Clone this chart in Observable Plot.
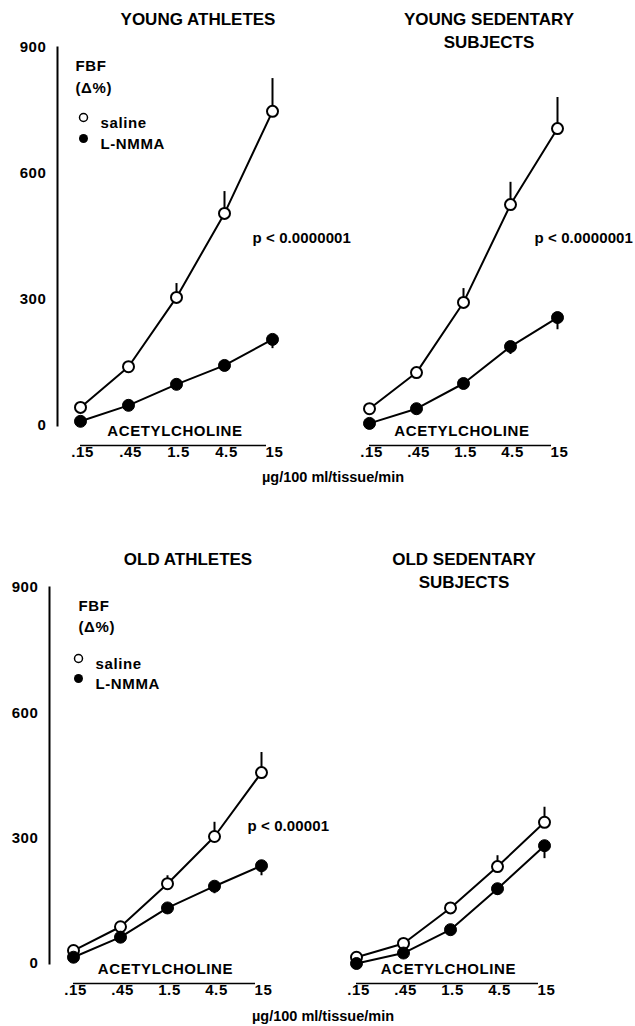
<!DOCTYPE html>
<html>
<head>
<meta charset="utf-8">
<script src="https://cdn.jsdelivr.net/npm/d3@7"></script>
<script src="https://cdn.jsdelivr.net/npm/@observablehq/plot@0.6"></script>
<style>
  html, body { margin: 0; padding: 0; background: white; }
  #root { position: relative; width: 635px; height: 1026px; font-family: "Liberation Sans", Arial, sans-serif; font-weight: bold; color: black; }
  .panel { position: absolute; }
  .title { position: absolute; text-align: center; font-size: 17px; line-height: 23px; transform: translateX(-50%); white-space: nowrap; }
  .caption { position: absolute; font-size: 14.5px; transform: translateX(-50%); white-space: nowrap; }
</style>
</head>
<body>
<div id="root"></div>
<script>
// ---- data ----
const doses = [".15", ".45", "1.5", "4.5", "15"];
const yTicks = [0, 300, 600, 900];
const seriesNames = ["saline", "L-NMMA"];

const youngAthSaline = [43, 140, 305, 505, 748];
const youngAthSalineErr = [0, 0, 33, 52, 78];
const youngAthLnmma = [10, 48, 98, 143, 205];
const youngAthLnmmaErr = [0, 0, 0, 8, 22];

const youngSedSaline = [40, 126, 293, 526, 707];
const youngSedSalineErr = [0, 0, 33, 53, 74];
const youngSedLnmma = [5, 40, 100, 188, 257];
const youngSedLnmmaErr = [0, 0, 0, 19, 29];

const oldAthSaline = [31, 88, 191, 304, 457];
const oldAthSalineErr = [0, 0, 19, 34, 48];
const oldAthLnmma = [15, 63, 133, 185, 234];
const oldAthLnmmaErr = [0, 0, 0, 18, 24];

const oldSedSaline = [15, 48, 133, 232, 338];
const oldSedSalineErr = [0, 0, 0, 26, 36];
const oldSedLnmma = [0, 25, 81, 179, 282];
const oldSedLnmmaErr = [0, 0, 0, 16, 31];

const panelTitles = [
  ["YOUNG ATHLETES"],
  ["YOUNG SEDENTARY", "SUBJECTS"],
  ["OLD ATHLETES"],
  ["OLD SEDENTARY", "SUBJECTS"]
];
const pValues = ["p < 0.0000001", "p < 0.0000001", "p < 0.00001", null];
const yLabel = ["FBF", "(\u0394%)"];
const xTitle = "ACETYLCHOLINE";
const unitCaption = "\u00b5g/100 ml/tissue/min";

// ---- layout ----
const layout = [
  {left: 0,   top: 0,   ml: 57, inset: 22, mr: 48, mt: 47, mb: 45, yAxis: true,
   title: {x: 198, y: 8}, p: {dx: 195, dy: 185}, legend: {tx: 18, cx: 26, lx: 43, dy0: 13, dy1: 35, dy2: 70, dy3: 91}},
  {left: 288, top: 0,   ml: 57, inset: 22, mr: 50, mt: 47, mb: 45, yAxis: false,
   title: {x: 489, y: 8}, p: {dx: 189, dy: 185}},
  {left: 0,   top: 540, ml: 49, inset: 24, mr: 59, mt: 47, mb: 47, yAxis: true,
   title: {x: 188, y: 548}, p: {dx: 198, dy: 233}, legend: {tx: 29, cx: 29, lx: 46, dy0: 13, dy1: 34, dy2: 71, dy3: 91}},
  {left: 282, top: 540, ml: 49, inset: 24, mr: 57, mt: 47, mb: 47, yAxis: false,
   title: {x: 464, y: 548}, p: null}
];
const W = 345, H = 470;

const seriesData = [
  [youngAthSaline, youngAthSalineErr, youngAthLnmma, youngAthLnmmaErr],
  [youngSedSaline, youngSedSalineErr, youngSedLnmma, youngSedLnmmaErr],
  [oldAthSaline, oldAthSalineErr, oldAthLnmma, oldAthLnmmaErr],
  [oldSedSaline, oldSedSalineErr, oldSedLnmma, oldSedLnmmaErr]
];

const rows = (vals, errs) => doses.map((d, i) => ({dose: d, value: vals[i], err: errs[i]}));

const root = document.getElementById("root");
const font = "Liberation Sans, Arial, sans-serif";
const FS = 15;

layout.forEach((L, k) => {
  const [sv, se, lv, le] = seriesData[k];
  const sal = rows(sv, se), lnm = rows(lv, le);
  const marks = [
    Plot.axisX({tickSize: 0, tickPadding: 21, label: null, fontSize: FS, dx: 2}),
    Plot.ruleY([0], {x1: () => doses[0], x2: () => doses[doses.length - 1], dy: 20, insetRight: 6, stroke: "black", strokeWidth: 1.5}),
    Plot.text([xTitle], {frameAnchor: "bottom", dx: 10, dy: 10, fontSize: FS, fontWeight: "bold"}),
    Plot.line(sal, {x: "dose", y: "value", stroke: "black", strokeWidth: 2}),
    Plot.line(lnm, {x: "dose", y: "value", stroke: "black", strokeWidth: 2}),
    Plot.ruleX(sal.filter(d => d.err > 0), {x: "dose", y1: "value", y2: d => d.value + d.err, stroke: "black", strokeWidth: 2}),
    Plot.ruleX(lnm.filter(d => d.err > 0), {x: "dose", y1: "value", y2: d => d.value - d.err, stroke: "black", strokeWidth: 2}),
    Plot.dot(sal, {x: "dose", y: "value", r: 5.5, fill: "white", stroke: "black", strokeWidth: 2}),
    Plot.dot(lnm, {x: "dose", y: "value", r: 6, fill: "black", stroke: "black", strokeWidth: 1})
  ];
  if (L.yAxis) {
    marks.unshift(Plot.frame({anchor: "left", stroke: "black", strokeWidth: 2}));
    marks.unshift(Plot.axisY({ticks: yTicks, tickSize: 0, tickPadding: 11, label: null, fontSize: FS}));
  }
  if (L.legend) {
    const g = L.legend;
    marks.push(
      Plot.text([yLabel[0]], {frameAnchor: "top-left", textAnchor: "start", dx: g.tx, dy: g.dy0, fontSize: FS, fontWeight: "bold"}),
      Plot.text([yLabel[1]], {frameAnchor: "top-left", textAnchor: "start", dx: g.tx, dy: g.dy1, fontSize: FS, fontWeight: "bold"}),
      Plot.dot([seriesNames[0]], {frameAnchor: "top-left", dx: g.cx, dy: g.dy2, r: 4, fill: "white", stroke: "black", strokeWidth: 1.5}),
      Plot.text([seriesNames[0]], {frameAnchor: "top-left", textAnchor: "start", dx: g.lx, dy: g.dy2, fontSize: FS, fontWeight: "bold"}),
      Plot.dot([seriesNames[1]], {frameAnchor: "top-left", dx: g.cx, dy: g.dy3, r: 4.5, fill: "black"}),
      Plot.text([seriesNames[1]], {frameAnchor: "top-left", textAnchor: "start", dx: g.lx, dy: g.dy3, fontSize: FS, fontWeight: "bold"})
    );
  }
  if (L.p && pValues[k]) {
    marks.push(Plot.text([pValues[k]], {frameAnchor: "top-left", textAnchor: "start", dx: L.p.dx, dy: L.p.dy, fontSize: FS, fontWeight: "bold", style: "letter-spacing:0.1px"}));
  }
  const chart = Plot.plot({
    width: W, height: H,
    marginLeft: L.ml, marginRight: W - (320 - L.mr), marginTop: L.mt, marginBottom: L.mb,
    x: {type: "point", domain: doses, padding: 0, insetLeft: L.inset, insetRight: 0},
    y: {domain: [0, 900], axis: L.yAxis ? undefined : null},
    style: {background: "transparent", fontFamily: font, fontWeight: "bold", fontSize: FS + "px", letterSpacing: "0.6px", color: "black", overflow: "visible"},
    marks
  });
  // p-value text: tighter spacing than the rest
  chart.querySelectorAll("text").forEach(t => {
    if (t.textContent.startsWith("p <")) t.style.letterSpacing = "0.1px";
  });
  const div = document.createElement("div");
  div.className = "panel";
  div.style.left = L.left + "px";
  div.style.top = L.top + "px";
  div.appendChild(chart);
  root.appendChild(div);

  const t = document.createElement("div");
  t.className = "title";
  t.style.left = L.title.x + "px";
  t.style.top = L.title.y + "px";
  t.innerHTML = panelTitles[k].join("<br>");
  root.appendChild(t);
});

const cap1 = document.createElement("div");
cap1.className = "caption";
cap1.style.left = "333px"; cap1.style.top = "469px";
cap1.textContent = unitCaption;
root.appendChild(cap1);
const cap2 = document.createElement("div");
cap2.className = "caption";
cap2.style.left = "323px"; cap2.style.top = "1008px";
cap2.textContent = unitCaption;
root.appendChild(cap2);
</script>
</body>
</html>
